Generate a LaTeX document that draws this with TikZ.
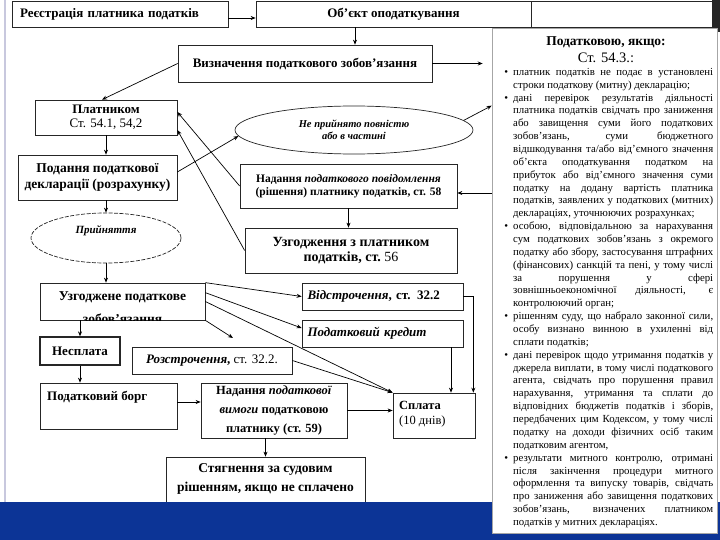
\documentclass[tikz,border=0pt]{standalone}
\usepackage{fontspec}
\setmainfont{Liberation Serif}
\usetikzlibrary{arrows.meta,shapes.geometric}
\definecolor{bandblue}{RGB}{12,52,150}
\definecolor{edgegray}{RGB}{200,200,222}
\newcommand{\panelJ}[1]{\noindent\hbox to 200pt{\spaceskip=0.25em plus 3em minus 0.12em\relax #1}\par}
\newcommand{\panelL}[1]{\noindent\hbox{\spaceskip=0.25em plus 0.1em minus 0.05em\relax #1}\par}
\newcommand{\panelB}{\noindent\llap{\textbullet\hspace{5pt}}}
\begin{document}
\begin{tikzpicture}[x=1pt,y=-1pt,
  box/.style={draw=black!85, line width=0.7pt, fill=white, inner sep=2pt, align=center,
    font=\bfseries\fontsize{13}{15}\selectfont},
  ell/.style={draw=black!85, line width=0.7pt, fill=white, ellipse, inner sep=0pt, align=center,
    font=\bfseries\itshape\fontsize{10.5}{11.5}\selectfont},
  txt/.style={inner sep=0pt, align=center, font=\bfseries\fontsize{13}{15}\selectfont},
  arr/.style={-{Stealth[length=5pt,width=4pt]}, line width=0.7pt, draw=black},
  panelbox/.style={draw=black!35, line width=0.6pt, fill=white, inner sep=0pt}
]
\useasboundingbox (0,0) rectangle (720,540);
\fill[white] (0,0) rectangle (720,540);
\draw[edgegray, line width=1.5pt] (5,0) -- (5,502);
\fill[black!85] (712,0) rectangle (720,32);

% top row
\node[box, minimum width=216, minimum height=26, text width=200, align=left] (reg) at (120,14) {Реєстрація платника податків};
\node[box, minimum width=275, minimum height=26] (obj) at (393.5,14) {Об’єкт оподаткування};
\node[box, minimum width=181, minimum height=26] (topr) at (621.5,14) {};
\coordinate (c355) at (355,0);

\node[box, minimum width=254, minimum height=37] (viz) at (305,63.5) {Визначення податкового зобов’язання};
\node[box, minimum width=142, minimum height=35, font=\bfseries\fontsize{13}{14}\selectfont] (plat) at (106,117.5) {Платником\\{\mdseries Ст. 54.1, 54,2}};
\node[box, minimum width=159, minimum height=45, font=\bfseries\fontsize{13.5}{16}\selectfont] (pod) at (97.5,177.5) {Подання податкової\\декларації (розрахунку)};
\node[ell, minimum width=238, minimum height=48] (nep) at (354,130) {Не прийнято повністю\\або в частині};
\node[box, minimum width=217, minimum height=44, font=\bfseries\fontsize{11.5}{13}\selectfont] (nad) at (348.5,186) {Надання \textit{податкового повідомлення}\\(рішення) платнику податків, ст. 58};
\node[box, minimum width=212, minimum height=45, font=\bfseries\fontsize{14}{15.5}\selectfont] (uzg) at (351,250.5) {Узгодження з платником\\податків, ст.~{\mdseries 56}};

\node[ell, dash pattern=on 4pt off 1.5pt, minimum width=150, minimum height=50] (pri) at (106,238) {};
\node[txt, font=\bfseries\itshape\fontsize{11}{13}\selectfont] (prit) at (106,231) {Прийняття};

\node[box, minimum width=165, minimum height=37] (uzd) at (122.5,301.5) {};
\node[txt, font=\bfseries\fontsize{13.5}{15}\selectfont] (uzdt1) at (122.5,297) {Узгоджене податкове};
\begin{scope}
\clip (40,283) rectangle (205,320);
\node[txt, font=\bfseries\fontsize{13.5}{15}\selectfont] (uzdt2) at (122.5,318.5) {зобов’язання};
\end{scope}

\node[box, minimum width=161, minimum height=27, text width=150, align=left] (vid) at (382.5,296.5) {\textit{Відстрочення}, ст. 32.2};
\node[box, minimum width=161, minimum height=27, text width=150, align=left] (kred) at (382.5,333.5) {\textit{Податковий кредит}};
\node[box, minimum width=160, minimum height=27] (roz) at (212,360.5) {\textit{Розстрочення}, {\mdseries ст. 32.2.}};
\node[box, line width=1.3pt, minimum width=80, minimum height=28] (nes) at (80,351) {Несплата};

\node[box, minimum width=137, minimum height=46] (borg) at (108.5,406) {};
\node[txt, anchor=west] (borgt) at (47,397) {Податковий борг};

\node[box, minimum width=146, minimum height=55, font=\bfseries\fontsize{12.5}{19}\selectfont] (nvm) at (274,410.5) {Надання \textit{податкової}\\\textit{вимоги} податковою\\платнику (ст. 59)};

\node[box, minimum width=82, minimum height=45] (spl) at (434,415.5) {};
\node[txt, anchor=west, align=left, font=\bfseries\fontsize{12.5}{15}\selectfont] (splt) at (399,414.5) {Сплата\\{\mdseries (10 днів)}};

\node[box, minimum width=199, minimum height=53] (styag) at (265.5,483.5) {};
\node[txt, font=\bfseries\fontsize{13.5}{19}\selectfont] (styagt) at (265.5,478.5) {Стягнення за судовим\\рішенням, якщо не сплачено};

% connectors (left part)
\draw[arr] ([yshift=-4]reg.east) -- ([yshift=-4]obj.west);
\draw[arr] (obj.south -| c355) -- (viz.north -| c355);
\draw[arr] (viz.west) -- ([xshift=-4]plat.north);
\draw[arr] (plat.south) -- (plat.south |- pod.north);
\draw[arr] ([yshift=5.5]pod.east) -- (nep.183);
\draw[arr] (nad.west) -- ([yshift=5.5]plat.east);
\draw[arr] (uzg.west) -- ([yshift=-12.5]plat.east);
\draw[arr] (nad.south) -- (nad.south |- uzg.north);
\draw[arr] (pri.north |- pod.south) -- (pri.north);
\draw[arr] (pri.south) -- (pri.south |- uzd.north);
\draw[arr] (uzd.north east) -- (vid.west);
\draw[arr] ([yshift=-10]uzd.north east) -- ([yshift=5.5]kred.west);
\draw[arr] (uzd.east) -- (spl.north west);
\coordinate (rozin) at (233,338);
\draw[arr] (uzd.south east) -- (rozin);
\draw[arr] (roz.east) -- (spl.north west);
\draw[arr, line width=1pt] (vid.east) -| ([xshift=-2]spl.north east);
\coordinate (kout) at ([xshift=68.5]kred.south);
\draw[arr] (kout) -- (kout |- spl.north);
\draw[arr] (nes.north |- uzd.south) -- (nes.north);
\draw[arr] (nes.south) -- (nes.south |- borg.north);
\coordinate (bout) at ([yshift=4]borg.east);
\draw[arr] (bout) -- (bout -| nvm.west);
\draw[arr] (nvm.east) -- (nvm.east -| spl.west);
\draw[arr] (styag.north |- nvm.south) -- (styag.north);

% bottom band
\fill[bandblue] (0,502) rectangle (720,540);

% right panel
\node[panelbox, minimum width=225, minimum height=505] (panel) at (604.5,280.5) {};
\node[txt, font=\bfseries\fontsize{13.5}{15}\selectfont] (ptitle) at (606,42) {Податковою, якщо:};
\node[txt, font=\fontsize{14.5}{16}\selectfont] (pst) at (606,58) {Ст. 54.3.:};
\node[anchor=north west, inner sep=0pt, text width=200pt, font=\fontsize{10.8}{12.86}\selectfont] (pbody) at (513,68) {%
\panelB\panelJ{платник податків не подає в установлені}%
\panelL{строки податкову (митну) декларацію;}%
\panelB\panelJ{дані перевірок результатів діяльності}%
\panelJ{платника податків свідчать про заниження}%
\panelJ{або завищення суми його податкових}%
\panelJ{зобов’язань, суми бюджетного}%
\panelJ{відшкодування та/або від’ємного значення}%
\panelJ{об’єкта оподаткування податком на}%
\panelJ{прибуток або від’ємного значення суми}%
\panelJ{податку на додану вартість платника}%
\panelJ{податків, заявлених у податкових (митних)}%
\panelL{деклараціях, уточнюючих розрахунках;}%
\panelB\panelJ{особою, відповідальною за нарахування}%
\panelJ{сум податкових зобов’язань з окремого}%
\panelJ{податку або збору, застосування штрафних}%
\panelJ{(фінансових) санкцій та пені, у тому числі}%
\panelJ{за порушення у сфері}%
\panelJ{зовнішньоекономічної діяльності, є}%
\panelL{контролюючий орган;}%
\panelB\panelJ{рішенням суду, що набрало законної сили,}%
\panelJ{особу визнано винною в ухиленні від}%
\panelL{сплати податків;}%
\panelB\panelJ{дані перевірок щодо утримання податків у}%
\panelJ{джерела виплати, в тому числі податкового}%
\panelJ{агента, свідчать про порушення правил}%
\panelJ{нарахування, утримання та сплати до}%
\panelJ{відповідних бюджетів податків і зборів,}%
\panelJ{передбачених цим Кодексом, у тому числі}%
\panelJ{податку на доходи фізичних осіб таким}%
\panelL{податковим агентом,}%
\panelB\panelJ{результати митного контролю, отримані}%
\panelJ{після закінчення процедури митного}%
\panelJ{оформлення та випуску товарів, свідчать}%
\panelJ{про заниження або завищення податкових}%
\panelJ{зобов’язань, визначених платником}%
\panelL{податків у митних деклараціях.}%
};

% connectors into / out of the panel
\draw[arr, shorten >=9pt] (viz.east) -- (viz.east -| panel.west);
\draw[arr] (nep.5) -- (nep.north -| panel.west);
\coordinate (nadin) at ([yshift=-7]nad.east);
\draw[arr] (nadin -| panel.west) -- (nadin);
\end{tikzpicture}
\end{document}
